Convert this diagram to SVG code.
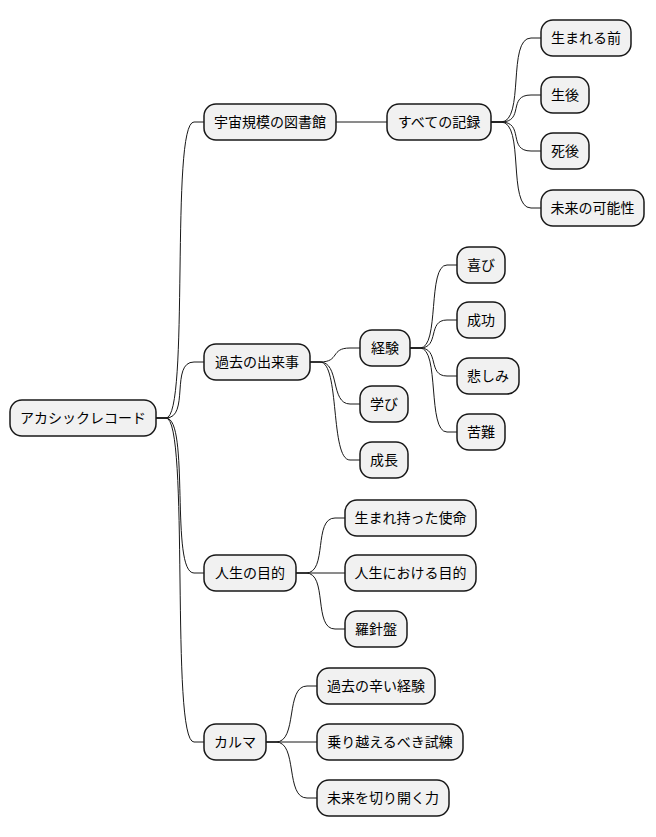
<svg xmlns="http://www.w3.org/2000/svg" width="656" height="837" viewBox="0 0 656 837">
<style>
rect{fill:#F1F1F1;stroke:#181818;stroke-width:1.5}
text{font-family:"Liberation Sans","Noto Sans CJK JP",sans-serif;font-size:14px;fill:#000;text-anchor:middle;dominant-baseline:central}
#conn path{fill:none;stroke:#181818;stroke-width:1}
</style>
<rect x="0" y="0" width="656" height="837" style="fill:#fff;stroke:none"/>
<g id="conn">
<path d="M156,418 L166,418 C190,418 170,122 194,122 L204,122"/>
<path d="M156,418 L166,418 C190,418 170,362 194,362 L204,362"/>
<path d="M156,418 L166,418 C190,418 170,573 194,573 L204,573"/>
<path d="M156,418 L166,418 C190,418 170,742 194,742 L204,742"/>
<path d="M336,122 L387,122"/>
<path d="M491,122 L501,122 C525,122 507,38 531,38 L541,38"/>
<path d="M491,122 L501,122 C525,122 507,95 531,95 L541,95"/>
<path d="M491,122 L501,122 C525,122 507,151 531,151 L541,151"/>
<path d="M491,122 L501,122 C525,122 507,208 531,208 L541,208"/>
<path d="M310,362 L320,362 C340,362 330,348 350,348 L360,348"/>
<path d="M310,362 L320,362 C340,362 330,404 350,404 L360,404"/>
<path d="M310,362 L320,362 C340,362 330,460 350,460 L360,460"/>
<path d="M410,348 L420,348 C440,348 427,265 447,265 L457,265"/>
<path d="M410,348 L420,348 C440,348 427,320 447,320 L457,320"/>
<path d="M410,348 L420,348 C440,348 427,376 447,376 L457,376"/>
<path d="M410,348 L420,348 C440,348 427,432 447,432 L457,432"/>
<path d="M296,573 L306,573 C328,573 313,518 335,518 L345,518"/>
<path d="M296,573 L345,573"/>
<path d="M296,573 L306,573 C328,573 313,629 335,629 L345,629"/>
<path d="M266,742 L276,742 C298,742 285,686 307,686 L317,686"/>
<path d="M266,742 L317,742"/>
<path d="M266,742 L276,742 C298,742 285,798 307,798 L317,798"/>
</g>
<g id="n0"><rect x="10" y="400" width="146" height="36" rx="12"/><text x="83" y="418">アカシックレコード</text></g>
<g id="n1"><rect x="204" y="104" width="132" height="36" rx="12"/><text x="270" y="122">宇宙規模の図書館</text></g>
<g id="n2"><rect x="387" y="104" width="104" height="36" rx="12"/><text x="439" y="122">すべての記録</text></g>
<g id="n3"><rect x="541" y="20" width="90" height="36" rx="12"/><text x="586" y="38">生まれる前</text></g>
<g id="n4"><rect x="541" y="77" width="48" height="36" rx="12"/><text x="565" y="95">生後</text></g>
<g id="n5"><rect x="541" y="133" width="48" height="36" rx="12"/><text x="565" y="151">死後</text></g>
<g id="n6"><rect x="541" y="190" width="103" height="36" rx="12"/><text x="592.5" y="208">未来の可能性</text></g>
<g id="n7"><rect x="204" y="344" width="106" height="36" rx="12"/><text x="257" y="362">過去の出来事</text></g>
<g id="n8"><rect x="360" y="330" width="50" height="36" rx="12"/><text x="385" y="348">経験</text></g>
<g id="n9"><rect x="457" y="247" width="48" height="36" rx="12"/><text x="481" y="265">喜び</text></g>
<g id="n10"><rect x="457" y="302" width="48" height="36" rx="12"/><text x="481" y="320">成功</text></g>
<g id="n11"><rect x="457" y="358" width="62" height="36" rx="12"/><text x="488" y="376">悲しみ</text></g>
<g id="n12"><rect x="457" y="414" width="48" height="36" rx="12"/><text x="481" y="432">苦難</text></g>
<g id="n13"><rect x="360" y="386" width="48" height="36" rx="12"/><text x="384" y="404">学び</text></g>
<g id="n14"><rect x="360" y="442" width="48" height="36" rx="12"/><text x="384" y="460">成長</text></g>
<g id="n15"><rect x="204" y="555" width="92" height="36" rx="12"/><text x="250" y="573">人生の目的</text></g>
<g id="n16"><rect x="345" y="500" width="131" height="36" rx="12"/><text x="410.5" y="518">生まれ持った使命</text></g>
<g id="n17"><rect x="345" y="555" width="131" height="36" rx="12"/><text x="410.5" y="573">人生における目的</text></g>
<g id="n18"><rect x="345" y="611" width="62" height="36" rx="12"/><text x="376" y="629">羅針盤</text></g>
<g id="n19"><rect x="204" y="724" width="62" height="36" rx="12"/><text x="235" y="742">カルマ</text></g>
<g id="n20"><rect x="317" y="668" width="118" height="36" rx="12"/><text x="376" y="686">過去の辛い経験</text></g>
<g id="n21"><rect x="317" y="724" width="146" height="36" rx="12"/><text x="390" y="742">乗り越えるべき試練</text></g>
<g id="n22"><rect x="317" y="780" width="132" height="36" rx="12"/><text x="383" y="798">未来を切り開く力</text></g>
</svg>
